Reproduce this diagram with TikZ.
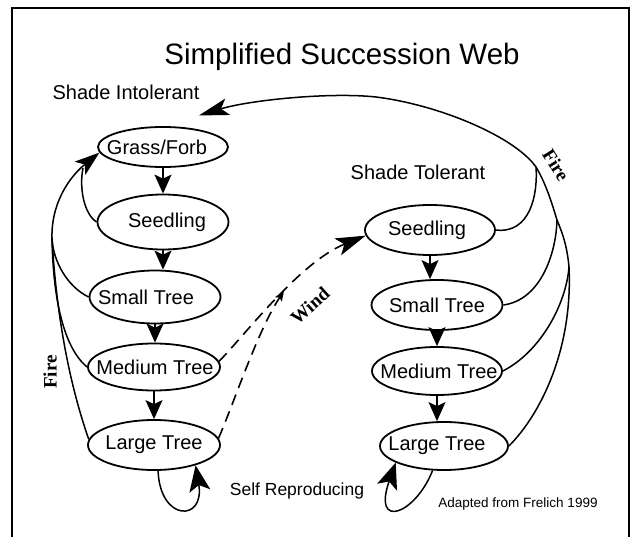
\documentclass[tikz,border=0pt]{standalone}
\usepackage{fontspec}
\setmainfont{Liberation Sans}
\newfontfamily\firefont{Liberation Serif}
\usetikzlibrary{shapes.geometric,arrows.meta,calc}
\begin{document}
\begin{tikzpicture}[x=1pt,y=-1pt,
  ell/.style={ellipse,draw,line width=1.8pt,inner sep=0pt},
  nodetext/.style={font=\fontsize{20}{22}\selectfont,inner sep=0pt},
  lbl/.style={font=\fontsize{20}{24}\selectfont,anchor=base},
  firelbl/.style={font=\firefont\bfseries\fontsize{19}{21}\selectfont},
  conn/.style={line width=1.5pt},
  stepArrow/.style={conn,-{Stealth[length=19pt,width=17pt,inset=4pt]}},
  bigArrow/.style={conn,-{Stealth[length=30pt,width=17pt,inset=7pt]}},
  fireArrow/.style={conn,-{Stealth[length=25pt,width=17pt,inset=6pt]}},
  loopArrow/.style={conn,-{Stealth[length=26pt,width=21pt,inset=6pt]}},
  windline/.style={line width=1.6pt,dash pattern=on 11pt off 7pt},
  frameline/.style={line width=2pt}
]
\useasboundingbox (0,0) rectangle (632,537);
% frame
\draw[frameline] (12,537) -- (12,8) -- (630,8);
\draw[frameline] (629,8) -- (629,537);

% texts
\node[font=\fontsize{29.5}{34}\selectfont,anchor=base] (title) at (342,65) {Simplified Succession Web};
\node[lbl] (si) at (126,100) {Shade Intolerant};
\node[lbl] (st) at (418,180) {Shade Tolerant};
\node[font=\fontsize{17.5}{20}\selectfont,anchor=base] (selfrep) at (297,495) {Self Reproducing};
\node[font=\fontsize{13.5}{16}\selectfont,anchor=base] (adapted) at (518,507) {Adapted from Frelich 1999};

% left column
\node[ell,minimum width=130pt,minimum height=40pt,label={[nodetext,xshift=-6pt]center:Grass/Forb}] (gf) at (163,147) {};
\node[ell,minimum width=131pt,minimum height=55pt,label={[nodetext,xshift=4pt]center:Seedling}] (sdL) at (163,222) {};
\node[ell,minimum width=131pt,minimum height=53pt,label={[nodetext,xshift=-9pt]center:Small Tree}] (smL) at (155,297) {};
\node[ell,minimum width=132pt,minimum height=47pt,label={[nodetext,xshift=1pt]center:Medium Tree}] (mdL) at (154,367) {};
\node[ell,minimum width=132pt,minimum height=50pt,label={[nodetext]center:Large Tree}] (lgL) at (154,445) {};

% right column
\node[ell,minimum width=130pt,minimum height=50pt,label={[nodetext,xshift=-3pt]center:Seedling}] (sdR) at (430,230) {};
\node[ell,minimum width=131pt,minimum height=50pt,label={[nodetext]center:Small Tree}] (smR) at (437,305) {};
\node[ell,minimum width=130pt,minimum height=48pt,label={[nodetext,xshift=2pt]center:Medium Tree}] (mdR) at (437,371) {};
\node[ell,minimum width=128pt,minimum height=48pt,label={[nodetext,xshift=-7pt]center:Large Tree}] (lgR) at (444,446) {};

% succession arrows
\draw[stepArrow] (gf.south) -- (gf.south |- sdL.north);
\draw[stepArrow] (sdL.south) -- (sdL.south |- smL.north);
\draw[stepArrow] (smL.south) -- (smL.south |- mdL.north);
\draw[stepArrow] (mdL.south) -- (mdL.south |- lgL.north);
\draw[stepArrow] (sdR.south) -- (sdR.south |- smR.north);
\draw[stepArrow] (smR.south) -- (smR.south |- mdR.north);
\draw[stepArrow] (mdR.south) -- (mdR.south |- lgR.north);

% left fire web
\coordinate (jL1) at (52,238);
\coordinate (jL0) at (83,168);
\draw[fireArrow] (jL1) .. controls (51,205) and (68,178) .. (gf.185);
\draw[conn] (sdL.west) .. controls (84,214) and (79,188) .. (jL0);
\draw[conn] (smL.west) .. controls (68,287) and (53,262) .. (jL1);
\draw[conn] (mdL.west) .. controls (64,348) and (53,300) .. (jL1);
\draw[conn] (lgL.175) .. controls (68,380) and (56,310) .. (jL1);

% right fire web
\coordinate (rJ2) at (569,267);
\coordinate (rJ1) at (557,220);
\coordinate (rJ0) at (536,167);
\coordinate (rTop) at (376,97);
\draw[bigArrow] (lgR.east) .. controls (540,415) and (573,350) .. (rJ2)
   .. controls (567,245) and (562,232) .. (rJ1)
   .. controls (551,200) and (545,182) .. (rJ0)
   .. controls (515,137) and (440,105) .. (rTop)
   .. controls (330,92) and (250,100) .. ([yshift=14pt]gf.26);
\draw[conn] (sdR.east) .. controls (530,234) and (538,195) .. (rJ0);
\draw[conn] (smR.east) .. controls (540,300) and (556,255) .. (rJ1);
\draw[conn] (mdR.east) .. controls (540,352) and (566,305) .. (rJ2);

% wind
\coordinate (wM) at (284,291);
\draw[windline,-{Stealth[length=30pt,width=18pt,inset=7pt]}] (mdL.5) .. controls (245,335) and (300,262) .. (sdR.185);
\draw[windline,-{Stealth[length=10pt,width=8pt,inset=2pt]}] (lgL.6) .. controls (235,400) and (258,330) .. (wM);

% self loops
\draw[loopArrow] (lgL.279) .. controls (160,522) and (205,522) .. (lgL.334);
\draw[loopArrow] (lgR.245) .. controls (415,515) and (372,530) .. (lgR.199);

% rotated labels
\node[firelbl,rotate=90] (fireL) at (50,372) {Fire};
\node[firelbl,rotate=-58] (fireR) at (556,165) {Fire};
\node[firelbl,rotate=42] (wind) at (310,306) {Wind};
\end{tikzpicture}
\end{document}
